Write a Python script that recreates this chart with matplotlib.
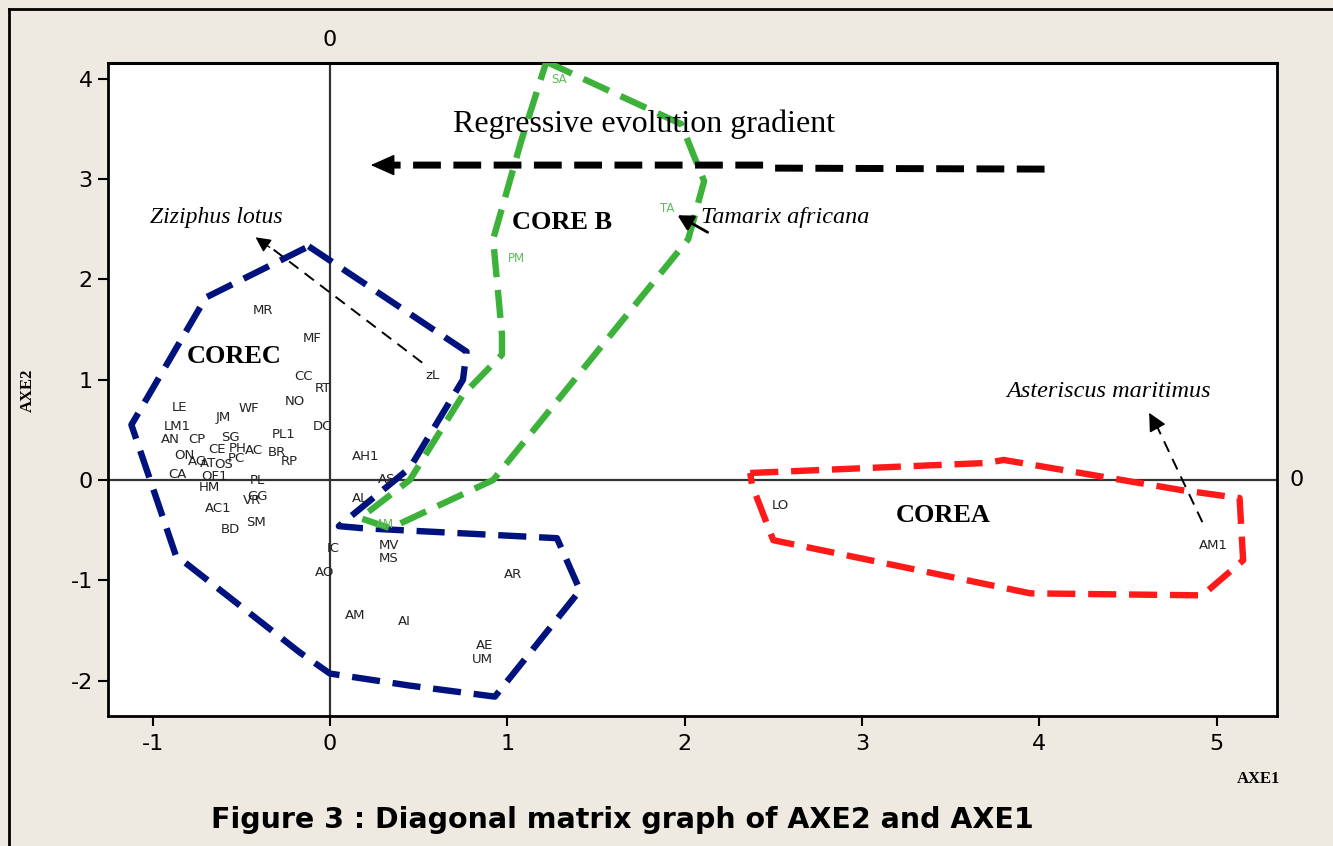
import matplotlib
matplotlib.use("Agg")
import matplotlib.pyplot as plt
from matplotlib.lines import Line2D
from matplotlib.transforms import blended_transform_factory

# ---- species scores on the first two axes ----
labels = ["MR", "MF", "CC", "RT", "NO", "LE", "WF", "JM", "DC", "LM1", "PL1",
          "AN", "CP", "SG", "CE", "PH", "AC", "BR", "RP", "ON", "AG", "AT",
          "OS", "PC", "CA", "OF1", "HM", "PL", "GG", "VR", "AC1", "SM", "BD",
          "AH1", "AS", "AL", "IC", "AO", "MV", "MS", "AR", "AM", "AI", "AE",
          "UM", "zL", "LO", "AM1"]
axe1 = [-0.38, -0.10, -0.15, -0.04, -0.20, -0.85, -0.46, -0.60, -0.04, -0.86, -0.26,
        -0.90, -0.75, -0.56, -0.64, -0.52, -0.43, -0.30, -0.23, -0.82, -0.75, -0.69,
        -0.60, -0.53, -0.86, -0.65, -0.68, -0.41, -0.41, -0.44, -0.63, -0.42, -0.56,
        0.20, 0.32, 0.17, 0.02, -0.03, 0.33, 0.33, 1.03, 0.14, 0.42, 0.87,
        0.86, 0.58, 2.54, 4.98]
axe2 = [1.69, 1.41, 1.03, 0.91, 0.78, 0.72, 0.71, 0.62, 0.53, 0.53, 0.45,
        0.40, 0.40, 0.42, 0.30, 0.31, 0.29, 0.27, 0.18, 0.24, 0.18, 0.16,
        0.15, 0.21, 0.05, 0.04, -0.07, 0.00, -0.16, -0.20, -0.28, -0.42, -0.49,
        0.23, 0.01, -0.18, -0.68, -0.92, -0.65, -0.78, -0.94, -1.35, -1.41, -1.65,
        -1.79, 1.04, -0.25, -0.65]

# species of core B (printed in green)
green_labels = ["SA", "TA", "PM", "AM"]
green_axe1 = [1.29, 1.90, 1.05, 0.31]
green_axe2 = [3.99, 2.71, 2.21, -0.44]

# ---- outlines of the three cores ----
core_c_x = [-0.12, 0.77, 0.75, 0.45, 0.05, 0.18, 1.28, 1.41, 0.93, 0.45, 0.00, -0.17, -0.87, -1.12, -0.70, -0.12]
core_c_y = [2.33, 1.28, 1.00, 0.12, -0.46, -0.48, -0.58, -1.10, -2.16, -2.05, -1.93, -1.72, -0.75, 0.55, 1.82, 2.33]

core_b_x = [1.22, 1.98, 2.11, 2.02, 0.92, 0.34, 0.17, 0.45, 0.75, 0.97, 0.97, 0.92, 1.08, 1.22]
core_b_y = [4.17, 3.55, 2.98, 2.40, 0.00, -0.48, -0.38, 0.00, 0.85, 1.25, 1.45, 2.40, 3.39, 4.17]

core_a_x = [2.37, 3.70, 3.80, 4.80, 5.13, 5.15, 4.92, 3.95, 2.50, 2.38, 2.37]
core_a_y = [0.07, 0.17, 0.20, -0.10, -0.18, -0.80, -1.15, -1.13, -0.60, -0.05, 0.07]

x_ticks = [-1, 0, 1, 2, 3, 4, 5]
y_ticks = [-2, -1, 0, 1, 2, 3, 4]

BEIGE = "#EEEAE1"
NAVY = "#00127E"
GREEN = "#3DB23A"
RED = "#FF1A1A"
LABEL_GREEN = "#5DBB5D"

fig = plt.figure(figsize=(13.33, 8.46), dpi=100)
fig.patch.set_facecolor(BEIGE)
ax = fig.add_axes([108 / 1333, 1 - 716 / 846, (1277 - 108) / 1333, (716 - 63) / 846])
ax.set_facecolor("white")
ax.set_xlim(-1.252, 5.341)
ax.set_ylim(-2.353, 4.158)

for s in ax.spines.values():
    s.set_linewidth(2.0)
    s.set_color("black")
ax.spines["top"].set_linewidth(2.2)

ax.set_xticks(x_ticks)
ax.set_yticks(y_ticks)
ax.set_xticklabels([str(v) for v in x_ticks])
ax.set_yticklabels([str(v) for v in y_ticks])
ax.tick_params(axis="both", direction="out", length=7, width=1.5, labelsize=16,
               pad=4, colors="black")
ax.tick_params(axis="x", pad=6)

# reference lines through the origin
ax.axhline(0, color="#333333", lw=1.6, zorder=1)
ax.axvline(0, color="#333333", lw=1.6, zorder=1)
tr_top = blended_transform_factory(ax.transData, ax.transAxes)
tr_right = blended_transform_factory(ax.transAxes, ax.transData)
ax.text(0, 1.035, "0", transform=tr_top, ha="center", va="center", fontsize=16, clip_on=False)
ax.text(1.017, 0, "0", transform=tr_right, ha="center", va="center", fontsize=16, clip_on=False)

dash = (0, (4.4, 2.0))
ax.plot(core_c_x, core_c_y, color=NAVY, lw=4.6, linestyle=dash, zorder=3,
        dash_capstyle="butt")
ax.plot(core_b_x, core_b_y, color=GREEN, lw=4.6, linestyle=dash, zorder=3,
        dash_capstyle="butt")
ax.plot(core_a_x, core_a_y, color=RED, lw=4.6, linestyle=dash, zorder=3,
        dash_capstyle="butt")

# species codes
for lab, x, y in zip(labels, axe1, axe2):
    ax.text(x, y, lab, ha="center", va="center", fontsize=9.5, color="#222222", zorder=4)
for lab, x, y in zip(green_labels, green_axe1, green_axe2):
    ax.text(x, y, lab, ha="center", va="center", fontsize=8.5, color=LABEL_GREEN, zorder=4)

# core names
serif = "Liberation Serif"
ax.text(-0.54, 1.23, "COREC", family=serif, fontweight="bold", fontsize=19,
        ha="center", va="center", zorder=5)
ax.text(1.31, 2.57, "CORE B", family=serif, fontweight="bold", fontsize=19,
        ha="center", va="center", zorder=5)
ax.text(3.46, -0.35, "COREA", family=serif, fontweight="bold", fontsize=19,
        ha="center", va="center", zorder=5)

# regressive evolution gradient arrow
ax.plot([4.03, 2.50, 2.45, 0.33], [3.10, 3.11, 3.14, 3.14], color="black", lw=5,
        linestyle=(0, (4.0, 1.8)), zorder=5)
ax.annotate("", xy=(0.23, 3.14), xytext=(0.36, 3.14),
            arrowprops=dict(arrowstyle="-|>,head_length=0.9,head_width=0.4",
                            color="black", lw=1, shrinkA=0, shrinkB=0,
                            mutation_scale=17), zorder=6)
ax.text(1.77, 3.55, "Regressive evolution gradient", family=serif, fontsize=23,
        ha="center", va="center", zorder=5)

# pointers to the indicator species
ax.plot([0.52, -0.35], [1.17, 2.34], color="black", lw=1.4, linestyle=(0, (6, 4)), zorder=5)
ax.annotate("", xy=(-0.42, 2.42), xytext=(-0.34, 2.32),
            arrowprops=dict(arrowstyle="-|>,head_length=0.7,head_width=0.35",
                            color="black", lw=1, shrinkA=0, shrinkB=0,
                            mutation_scale=13), zorder=6)
ax.text(-0.64, 2.62, "Ziziphus lotus", family=serif, style="italic", fontsize=17,
        ha="center", va="center", zorder=5)

ax.annotate("", xy=(1.96, 2.64), xytext=(2.13, 2.47),
            arrowprops=dict(arrowstyle="-|>,head_length=0.7,head_width=0.38",
                            color="black", lw=2, shrinkA=0, shrinkB=0,
                            mutation_scale=13), zorder=6)
ax.text(2.09, 2.62, "Tamarix africana", family=serif, style="italic", fontsize=17.5,
        ha="left", va="center", zorder=5)

ax.plot([4.92, 4.66], [-0.42, 0.55], color="black", lw=1.4, linestyle=(0, (6, 4)), zorder=5)
ax.annotate("", xy=(4.62, 0.67), xytext=(4.66, 0.54),
            arrowprops=dict(arrowstyle="-|>,head_length=0.8,head_width=0.4",
                            color="black", lw=1, shrinkA=0, shrinkB=0,
                            mutation_scale=14), zorder=6)
ax.text(4.39, 0.88, "Asteriscus maritimus", family=serif, style="italic", fontsize=17.5,
        ha="center", va="center", zorder=5)

# axis names
fig.text(28 / 1333, 1 - 390 / 846, "AXE2", family=serif, fontweight="bold", fontsize=12,
         rotation=90, ha="center", va="center")
fig.text(1259 / 1333, 1 - 779 / 846, "AXE1", family=serif, fontweight="bold", fontsize=12,
         ha="center", va="center")

fig.text(622 / 1333, 1 - 820 / 846, "Figure 3 : Diagonal matrix graph of AXE2 and AXE1",
         fontsize=20.5, fontweight="bold", ha="center", va="center")

# frame around the figure
fig.add_artist(Line2D([9 / 1333, 9 / 1333], [0, 1 - 9 / 846], transform=fig.transFigure,
                      color="black", lw=2))
fig.add_artist(Line2D([9 / 1333, 1], [1 - 9 / 846, 1 - 9 / 846], transform=fig.transFigure,
                      color="black", lw=2))

fig.savefig("out.png", dpi=100, facecolor=BEIGE)
